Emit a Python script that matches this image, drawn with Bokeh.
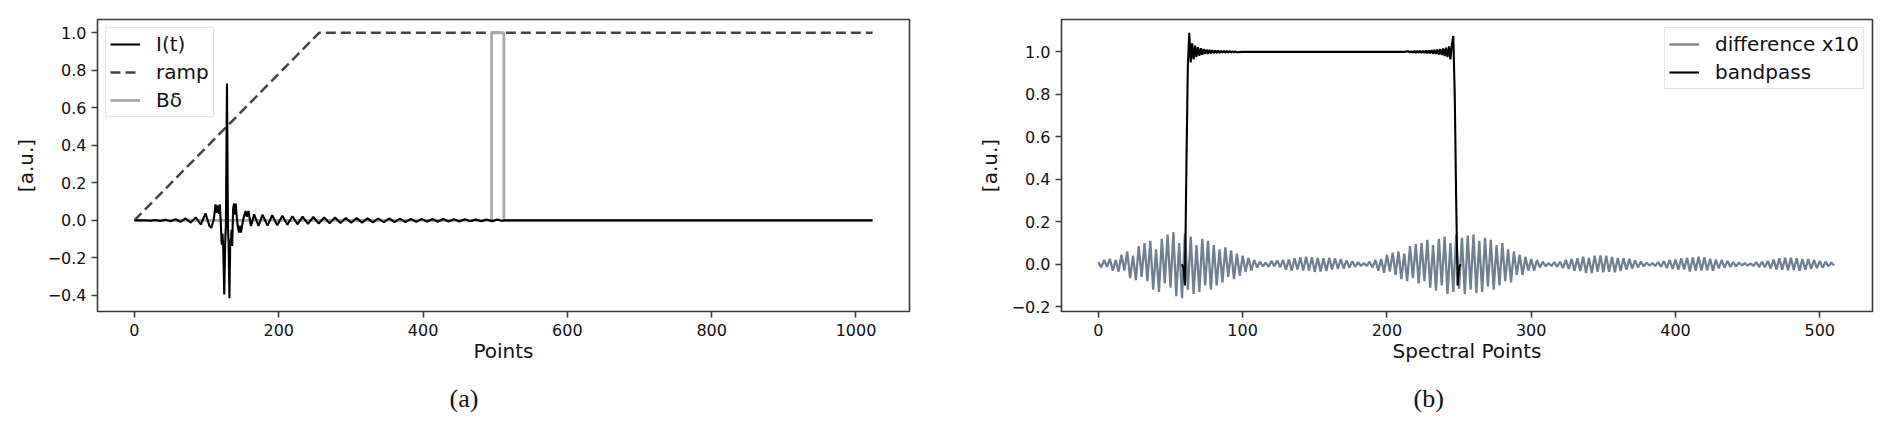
from bokeh.plotting import figure
from bokeh.models import Range1d, FixedTicker, CustomJSTickFormatter, Legend, LegendItem, Title
from bokeh.layouts import row
from bokeh.embed import file_html
from bokeh.resources import INLINE

# ---------------- data: panel (a) ----------------
it_pts = [
    (0, 0.0), (15, 0.001), (22, -0.002), (29, 0.002), (36, -0.003), (43, 0.004),
    (50, -0.005), (57, 0.006), (64, -0.008), (71, 0.01), (78, -0.012), (85, 0.016),
    (92, -0.022), (98.5, 0.037), (104, -0.03), (106.5, -0.04), (110, 0.005),
    (112.5, 0.085), (114, 0.04), (116, 0.08), (117.5, 0.035), (118.5, 0.085),
    (120, -0.04), (121, -0.13), (122, -0.07), (123, -0.137), (124.5, -0.395),
    (125.8, -0.12), (126.8, -0.02), (128.3, 0.73), (129.6, -0.03), (130.5, -0.12),
    (131.7, -0.415), (132.8, -0.10), (133.6, -0.137), (134.6, -0.05), (135.5, -0.137),
    (136.8, 0.06), (138, 0.09), (139.2, 0.03), (140.4, 0.09), (141.8, 0.02),
    (143.5, -0.04), (145, -0.065), (146.3, -0.03), (147.6, -0.065), (150.5, 0.0),
    (154, 0.05), (156, 0.02), (158, 0.05), (161.5, -0.03), (166, 0.032),
    (172, -0.03), (177.5, 0.03), (184.5, -0.028), (191, 0.027), (198, -0.026),
    (205, 0.025), (212, -0.023), (219, 0.022), (226, -0.021), (233, 0.02),
    (240.5, -0.019), (248, 0.018), (255.5, -0.017), (263, 0.016), (270.5, -0.015),
    (278, 0.015), (285.5, -0.014), (293, 0.013), (300.5, -0.013), (308, 0.012),
    (315.5, -0.012), (323, 0.011), (330.5, -0.011), (338, 0.01), (345.5, -0.01),
    (353, 0.01), (360.5, -0.009), (368, 0.009), (375.5, -0.009), (383, 0.008),
    (390.5, -0.008), (398, 0.008), (405.5, -0.007), (413, 0.007), (420.5, -0.007),
    (428, 0.007), (435.5, -0.006), (443, 0.006), (450.5, -0.006), (458, 0.006),
    (465.5, -0.005), (473, 0.005), (480.5, -0.005), (488, 0.005), (495.5, -0.004),
    (503, 0.004), (510.5, -0.003), (512, 0.0), (1023, 0.0),
]
it_x = [p[0] for p in it_pts]
it_y = [p[1] for p in it_pts]

ramp_x = [0, 256, 1023]
ramp_y = [0.0, 1.0, 1.0]

bdelta_x = [0, 495, 495, 512, 512, 1023]
bdelta_y = [0.0, 0.0, 1.0, 1.0, 0.0, 0.0]

xticks_a = [0, 200, 400, 600, 800, 1000]
yticks_a = [-0.4, -0.2, 0.0, 0.2, 0.4, 0.6, 0.8, 1.0]

# ---------------- data: panel (b) ----------------
diff_x = list(range(0, 512, 2))
diff_y = [
    0.01, -0.015, 0.02, -0.012, 0.025, -0.03, 0.02, -0.035,
    0.045, -0.03, 0.06, -0.065, 0.04, -0.075, 0.085, -0.06,
    0.1, -0.08, 0.11, -0.12, 0.07, -0.13, 0.12, -0.09,
    0.14, -0.11, 0.15, -0.15, 0.1, -0.16, 0.145, -0.12,
    0.13, -0.14, 0.09, -0.13, 0.12, -0.1, 0.11, -0.12,
    0.09, -0.1, 0.07, -0.085, 0.08, -0.06, 0.065, -0.07,
    0.05, -0.055, 0.04, -0.035, 0.03, -0.03, 0.02, -0.015,
    0.012, -0.01, 0.008, -0.012, 0.015, -0.01, 0.018, -0.015,
    0.02, -0.025, 0.022, -0.03, 0.028, -0.025, 0.033, -0.03,
    0.035, -0.03, 0.032, -0.036, 0.03, -0.034, 0.028, -0.032,
    0.03, -0.025, 0.028, -0.022, 0.024, -0.02, 0.018, -0.016,
    0.014, -0.012, 0.01, -0.008, 0.006, -0.008, 0.012, -0.015,
    0.02, -0.03, 0.025, -0.04, 0.045, -0.035, 0.055, -0.05,
    0.06, -0.07, 0.05, -0.08, 0.085, -0.065, 0.095, -0.09,
    0.1, -0.08, 0.115, -0.11, 0.09, -0.125, 0.12, -0.1,
    0.13, -0.14, 0.1, -0.13, 0.14, -0.115, 0.125, -0.14,
    0.135, -0.12, 0.14, -0.135, 0.11, -0.13, 0.125, -0.105,
    0.115, -0.12, 0.09, -0.1, 0.1, -0.08, 0.07, -0.085,
    0.06, -0.05, 0.045, -0.05, 0.035, -0.03, 0.025, -0.03,
    0.02, -0.015, 0.012, -0.01, 0.006, -0.008, 0.01, -0.012,
    0.012, -0.018, 0.02, -0.022, 0.025, -0.03, 0.028, -0.032,
    0.035, -0.04, 0.03, -0.042, 0.04, -0.035, 0.042, -0.038,
    0.04, -0.036, 0.034, -0.038, 0.03, -0.032, 0.028, -0.026,
    0.025, -0.02, 0.018, -0.015, 0.012, -0.01, 0.007, -0.006,
    0.005, -0.008, 0.01, -0.012, 0.015, -0.018, 0.02, -0.022,
    0.022, -0.026, 0.028, -0.024, 0.03, -0.034, 0.032, -0.03,
    0.035, -0.03, 0.033, -0.028, 0.026, -0.03, 0.022, -0.02,
    0.02, -0.016, 0.015, -0.012, 0.01, -0.01, 0.008, -0.006,
    0.005, -0.006, 0.004, -0.008, 0.01, -0.012, 0.011, -0.014,
    0.016, -0.02, 0.022, -0.024, 0.028, -0.026, 0.03, -0.028,
    0.03, -0.027, 0.028, -0.03, 0.025, -0.026, 0.024, -0.022,
    0.02, -0.018, 0.015, -0.016, 0.012, -0.01, 0.008, -0.006,
]

bp_pts = [
    (58, 0.0), (59, -0.02), (60, -0.1), (61, 0.45), (62, 0.93), (63, 1.09),
    (64, 0.95), (65, 1.04), (66, 0.965), (67, 1.03), (68, 0.975), (69, 1.022),
    (70, 0.982), (71, 1.017), (72, 0.986), (73, 1.013), (74, 0.99), (75, 1.011),
    (76, 0.991), (77, 1.009), (78, 0.993), (79, 1.008), (80, 0.994), (81, 1.007),
    (82, 0.995), (83, 1.006), (84, 0.995), (85, 1.005), (86, 0.996), (87, 1.005),
    (88, 0.996), (89, 1.004), (90, 0.997), (91, 1.004), (92, 0.997), (93, 1.003),
    (94, 0.998), (95, 1.003), (96, 0.998), (100, 1.0), (212, 1.0),
    (215, 1.003), (216, 0.997), (217, 1.003), (218, 0.997), (219, 1.004),
    (220, 0.996), (221, 1.004), (222, 0.996), (223, 1.005), (224, 0.995),
    (225, 1.005), (226, 0.995), (227, 1.006), (228, 0.994), (229, 1.007),
    (230, 0.993), (231, 1.008), (232, 0.992), (233, 1.009), (234, 0.99),
    (235, 1.011), (236, 0.988), (237, 1.013), (238, 0.985), (239, 1.016),
    (240, 0.98), (241, 1.02), (242, 0.975), (243, 1.026), (244, 0.965),
    (245, 1.035), (246, 1.075), (247, 0.8), (248, 0.3), (249, -0.1),
    (250, -0.02), (251, 0.0),
]
bp_x = [p[0] for p in bp_pts]
bp_y = [p[1] for p in bp_pts]

xticks_b = [0, 100, 200, 300, 400, 500]
yticks_b = [-0.2, 0.0, 0.2, 0.4, 0.6, 0.8, 1.0]

FONT = "DejaVu Sans"
EDGE = "#3a3a3a"


def padded(lo, hi, frac=0.05):
    span = hi - lo
    return lo - frac * span, hi + frac * span


def style(p, xticks, yticks, xlabel, ylabel):
    p.xgrid.visible = False
    p.ygrid.visible = False
    p.outline_line_color = EDGE
    p.outline_line_width = 1.6
    p.background_fill_color = "white"
    p.border_fill_color = "white"
    p.xaxis.ticker = FixedTicker(ticks=xticks)
    p.yaxis.ticker = FixedTicker(ticks=yticks)
    p.yaxis.formatter = CustomJSTickFormatter(
        code="return (tick < -1e-9 ? '\u2212' : '') + Math.abs(tick).toFixed(1);")
    p.xaxis.axis_label = xlabel
    p.yaxis.axis_label = ylabel
    for axes in (p.xaxis, p.yaxis):
        axes.axis_line_color = None
        axes.major_tick_in = 0
        axes.major_tick_out = 6
        axes.major_tick_line_color = EDGE
        axes.major_tick_line_width = 1.6
        axes.minor_tick_line_color = None
        axes.major_label_text_font = FONT
        axes.major_label_text_font_size = "16px"
        axes.major_label_text_color = "#111111"
        axes.axis_label_text_font = FONT
        axes.axis_label_text_font_size = "20px"
        axes.axis_label_text_font_style = "normal"
        axes.axis_label_text_color = "#111111"
    p.xaxis.major_label_standoff = 6
    p.yaxis.major_label_standoff = 5
    p.xaxis.axis_label_standoff = 0
    p.yaxis.axis_label_standoff = 7


def make_legend(items, loc):
    return Legend(items=items, location=loc, margin=8, padding=4, spacing=4,
                  glyph_width=30, glyph_height=22, label_height=22, label_standoff=16,
                  label_text_font=FONT, label_text_font_size="20px",
                  label_text_color="#111111",
                  border_line_color="#cccccc", border_line_width=1.2,
                  background_fill_color="white", background_fill_alpha=0.8)


def caption(text):
    return Title(text=text, align="left", offset=352, standoff=33,
                 text_font="Liberation Serif", text_font_size="26px",
                 text_font_style="normal", text_color="#111111")


# ---------------- panel (a) ----------------
ya = padded(min(it_y + ramp_y + bdelta_y), max(it_y + ramp_y + bdelta_y))
xa = padded(0, 1023)
pa = figure(frame_width=812, frame_height=292, min_border_left=97, min_border_right=43,
            min_border_top=19, min_border_bottom=112, title=None,
            x_range=Range1d(*xa), y_range=Range1d(*ya),
            output_backend="svg", toolbar_location=None)
style(pa, xticks_a, yticks_a, "Points", "[a.u.]")
r_ramp = pa.line(ramp_x, ramp_y, line_color="#444444", line_width=2.5, line_dash="10 5")
r_bd = pa.line(bdelta_x, bdelta_y, line_color="#aaaaaa", line_width=2.8)
r_it = pa.line(it_x, it_y, line_color="black", line_width=2.1)
pa.add_layout(make_legend([
    LegendItem(label="I(t)", renderers=[r_it]),
    LegendItem(label="ramp", renderers=[r_ramp]),
    LegendItem(label="B\u03b4", renderers=[r_bd]),
], "top_left"))
pa.add_layout(caption("(a)"), "below")

# ---------------- panel (b) ----------------
yb = padded(min(diff_y + bp_y), max(diff_y + bp_y))
xb = padded(0, 511)
pb = figure(frame_width=811, frame_height=292, min_border_left=109, min_border_right=4,
            min_border_top=19, min_border_bottom=112, title=None,
            x_range=Range1d(*xb), y_range=Range1d(*yb),
            output_backend="svg", toolbar_location=None)
style(pb, xticks_b, yticks_b, "Spectral Points", "[a.u.]")
r_diff = pb.line(diff_x, diff_y, line_color="#708090", line_width=2.3)
r_bp = pb.line(bp_x, bp_y, line_color="black", line_width=2.1)
pb.add_layout(make_legend([
    LegendItem(label="difference x10", renderers=[r_diff]),
    LegendItem(label="bandpass", renderers=[r_bp]),
], "top_right"))
pb.add_layout(caption("(b)"), "below")

layout = row(pa, pb)
open("out.html", "w").write(file_html(layout, INLINE))
